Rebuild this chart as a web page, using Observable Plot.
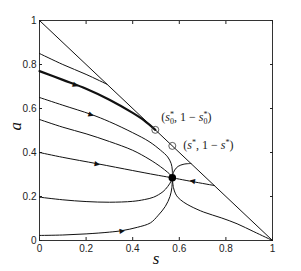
<!DOCTYPE html>
<html><head><meta charset="utf-8">
<script src="https://cdn.jsdelivr.net/npm/d3@7"></script>
<script src="https://cdn.jsdelivr.net/npm/@observablehq/plot@0.6"></script>
<style>body{margin:0;background:#fff}</style>
</head><body><div id="chart"></div>
<script>
// tick values and labels
const sTicks = [0, 0.2, 0.4, 0.6, 0.8, 1];
const sTickLabels = ["0", "0.2", "0.4", "0.6", "0.8", "1"];
const aTicks = [0, 0.2, 0.4, 0.6, 0.8, 1];
const aTickLabels = ["0", "0.2", "0.4", "0.6", "0.8", "1"];

// trajectories [s, a]
const diagonal = [[0, 1], [1, 0]];
const traj085 = [[0, 0.85], [0.1, 0.80], [0.2, 0.755], [0.29, 0.71]];
const trajThick = [[0, 0.77], [0.1, 0.73], [0.2, 0.69], [0.3, 0.64], [0.4, 0.58], [0.45, 0.545], [0.497, 0.503]];
const traj065 = [[0, 0.65], [0.1, 0.615], [0.222, 0.573], [0.3, 0.54], [0.4, 0.49], [0.47, 0.45], [0.52, 0.41], [0.55, 0.38], [0.565, 0.35], [0.57, 0.32], [0.57, 0.285]];
const traj055 = [[0, 0.55], [0.1, 0.515], [0.2, 0.485], [0.3, 0.45], [0.4, 0.41], [0.47, 0.37], [0.52, 0.335], [0.55, 0.31], [0.565, 0.295], [0.57, 0.285]];
const traj040 = [[0, 0.4], [0.1, 0.378], [0.248, 0.349], [0.4, 0.318], [0.5, 0.298], [0.57, 0.285]];
const traj020 = [[0, 0.197], [0.1, 0.185], [0.2, 0.177], [0.3, 0.174], [0.4, 0.178], [0.45, 0.186], [0.49, 0.197], [0.53, 0.222], [0.55, 0.245], [0.565, 0.27], [0.57, 0.285]];
const traj002 = [[0, 0.023], [0.1, 0.025], [0.2, 0.03], [0.3, 0.038], [0.355, 0.045], [0.42, 0.06], [0.476, 0.08], [0.51, 0.115], [0.54, 0.155], [0.56, 0.2], [0.568, 0.24], [0.57, 0.285]];
const trajRight = [[0.75, 0.25], [0.655, 0.268], [0.57, 0.285]];
const trajUpper = [[0.65, 0.35], [0.62, 0.347], [0.595, 0.337], [0.58, 0.32], [0.572, 0.3], [0.57, 0.285]];
const trajCorner = [[1, 0], [0.92, 0.04], [0.848, 0.076], [0.78, 0.103], [0.705, 0.129], [0.65, 0.155], [0.619, 0.174], [0.595, 0.195], [0.584, 0.212], [0.575, 0.24], [0.57, 0.285]];

// special points
const fixedPoint = [[0.57, 0.285]];
const pointS0 = [[0.497, 0.503]];
const pointS = [[0.57, 0.43]];
const labelS0 = "(s0*, 1 − s0*)";
const labelS = "(s*, 1 − s*)";

// arrow positions: [curve, s]
const arrowSpecs = [["thick", 0.155], ["c065", 0.222], ["c040", 0.248], ["c002", 0.355], ["right", 0.655]];

const thinCurves = {diag: diagonal, c085: traj085, c065: traj065, c055: traj055, c040: traj040, c020: traj020, c002: traj002, right: trajRight, upper: trajUpper, corner: trajCorner};
const allCurves = Object.assign({thick: trajThick}, thinCurves);

const thinRows = [];
for (const [k, pts] of Object.entries(thinCurves)) for (const [s, a] of pts) thinRows.push({k, s, a});
const thickRows = trajThick.map(([s, a]) => ({s, a}));

const W = 301, H = 271, ML = 39, MR = 29, MT = 20, MB = 31;
const iw = W - ML - MR, ih = H - MT - MB;

const arrows = arrowSpecs.map(([k, s0]) => {
  const pts = allCurves[k];
  for (let i = 0; i < pts.length - 1; i++) {
    const [s1, a1] = pts[i], [s2, a2] = pts[i + 1];
    if ((s0 - s1) * (s0 - s2) <= 0) {
      const t = (s0 - s1) / (s2 - s1);
      const a = a1 + t * (a2 - a1);
      const rot = Math.atan2(-(a2 - a1) * ih, (s2 - s1) * iw) * 180 / Math.PI;
      return {s: s0, a, rot};
    }
  }
});

const font = "'Liberation Sans', Arial, sans-serif";
const serif = "'Liberation Serif', 'DejaVu Serif', serif";

const chart = Plot.plot({
  width: W, height: H,
  marginLeft: ML, marginRight: MR, marginTop: MT, marginBottom: MB,
  style: {fontFamily: font, fontSize: "10px", color: "#222", background: "#fff"},
  x: {domain: [0, 1]},
  y: {domain: [0, 1]},
  marks: [
    Plot.frame({stroke: "#333", strokeWidth: 1}),
    Plot.axisX(sTicks, {anchor: "bottom", tickSize: -3, tickPadding: 7, tickFormat: (d, i) => sTickLabels[i], label: null, fontSize: 10}),
    Plot.axisX(sTicks, {anchor: "top", tickSize: -3, tickFormat: () => "", label: null}),
    Plot.axisY(aTicks, {anchor: "left", tickSize: -3, tickPadding: 6, tickFormat: (d, i) => aTickLabels[i], label: null, fontSize: 10}),
    Plot.axisY(aTicks, {anchor: "right", tickSize: -3, tickFormat: () => "", label: null}),
    Plot.line(thinRows, {x: "s", y: "a", z: "k", stroke: "#111", strokeWidth: 1, curve: "catmull-rom"}),
    Plot.line(thickRows, {x: "s", y: "a", stroke: "#111", strokeWidth: 2.2, curve: "catmull-rom"}),
    Plot.text(arrows, {x: "s", y: "a", text: () => "▶", rotate: "rot", fontSize: 7, fill: "#111", fontFamily: "'DejaVu Sans', sans-serif"}),
    Plot.dot(pointS0.concat(pointS), {x: d => d[0], y: d => d[1], r: 3.5, stroke: "#333", strokeWidth: 0.8, fill: "none"}),
    Plot.dot(fixedPoint, {x: d => d[0], y: d => d[1], r: 3.8, fill: "#000", stroke: "none"}),
    Plot.text(pointS0, {x: d => d[0], y: d => d[1], text: () => labelS0, dx: 6, dy: -13, textAnchor: "start", fontFamily: serif, fontSize: 12, fill: "#222"}),
    Plot.text(pointS, {x: d => d[0], y: d => d[1], text: () => labelS, dx: 11, dy: -1, textAnchor: "start", fontFamily: serif, fontSize: 12, fill: "#222"}),
    Plot.text(["s"], {frameAnchor: "bottom", dy: 23, fontFamily: serif, fontStyle: "italic", fontSize: 17, fill: "#111"}),
    Plot.text(["a"], {frameAnchor: "left", dx: -24, rotate: -90, fontFamily: serif, fontStyle: "italic", fontSize: 17, fill: "#111"})
  ]
});
document.getElementById("chart").appendChild(chart);

// format the point labels with italic s, superscript * and subscript 0
const ns = "http://www.w3.org/2000/svg";
chart.querySelectorAll("text").forEach(t => {
  const txt = t.textContent;
  if (txt !== labelS0 && txt !== labelS) return;
  const sub = txt === labelS0;
  t.textContent = "";
  let cur = 0;
  const add = (str, opts = {}) => {
    const sp = document.createElementNS(ns, "tspan");
    sp.textContent = str;
    if (opts.italic) sp.setAttribute("font-style", "italic");
    if (opts.size) sp.setAttribute("font-size", opts.size);
    const target = opts.shift || 0;
    if (target !== cur) { sp.setAttribute("dy", target - cur); cur = target; }
    if (opts.dx) sp.setAttribute("dx", opts.dx);
    t.appendChild(sp);
  };
  const sym = () => {
    add("s", {italic: true});
    add("*", {size: 8, shift: -4});
    if (sub) add("0", {size: 8, shift: 3, dx: -4});
  };
  add("(");
  sym();
  add(", 1 − ", {shift: 0});
  sym();
  add(")", {shift: 0});
});
</script></body></html>
